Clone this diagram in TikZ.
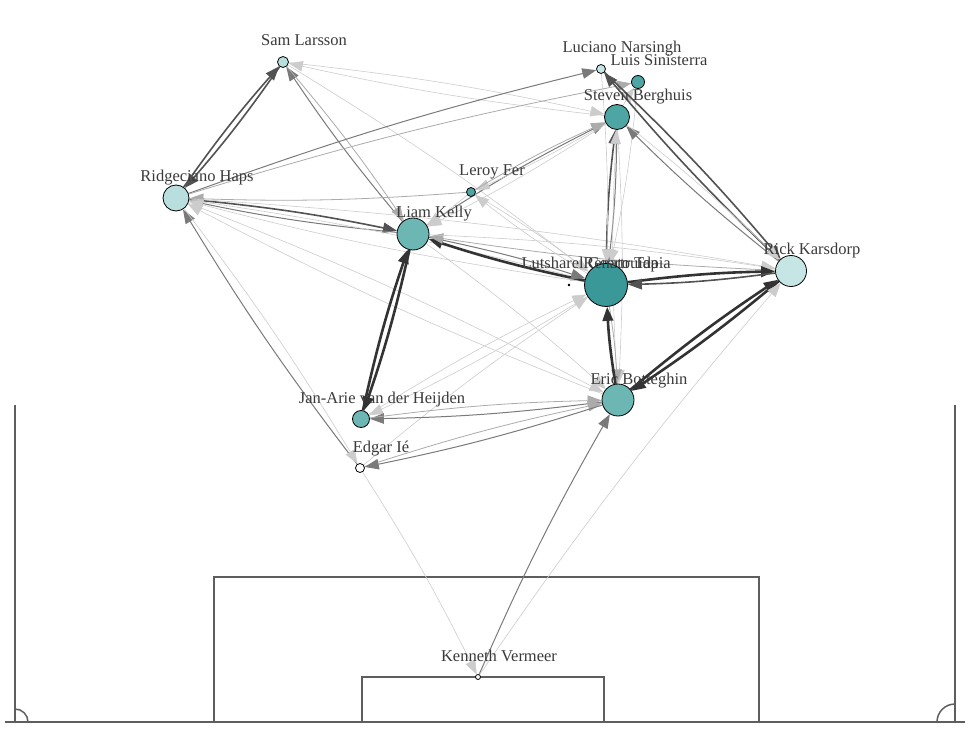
\documentclass[tikz,border=0pt]{standalone}
\usepackage{fontspec}
\setmainfont{Liberation Serif}
\usetikzlibrary{arrows.meta,backgrounds}

\definecolor{pale}{HTML}{B8DEDE}
\definecolor{paler}{HTML}{C6E6E6}
\definecolor{tealA}{HTML}{6CB7B4}
\definecolor{tealB}{HTML}{4DA6A4}
\definecolor{tealC}{HTML}{3A9898}
\definecolor{txt}{HTML}{3A3A3A}
\definecolor{pitch}{HTML}{5E5E5E}

\begin{document}
\begin{tikzpicture}[x=1pt,y=-1pt,
    player/.style={circle,draw=black,line width=0.8pt,inner sep=0pt},
    pname/.style={anchor=base,text=txt,inner sep=0pt,font=\fontsize{16.5}{18}\selectfont},
    pass/.style={-{Triangle[length=14pt,width=10.5pt]},bend left=3},
    e1/.style={pass,color=black!20,line width=0.6pt},
    e2/.style={pass,color=black!33,line width=0.8pt},
    e3/.style={pass,color=black!52,line width=1pt},
    e4/.style={pass,color=black!68,line width=1.6pt},
    e5/.style={pass,color=black!80,line width=2.6pt},
    field/.style={draw=pitch,line width=1.5pt}]

  \useasboundingbox (0,0) rectangle (970,730);

  % players: id / x / y / diameter / fill / name
  \foreach \id/\x/\y/\d/\col/\txt in {%
      sam/283/62/11/pale/Sam Larsson,
      luc/601/69/9/paler/Luciano Narsingh,
      luis/638/82/13/tealB/Luis Sinisterra,
      stev/617/117/25/tealB/Steven Berghuis,
      fer/471/192/9/tealB/Leroy Fer,
      haps/176/198/26/pale/Ridgeciano Haps,
      kelly/413/234/32/tealA/Liam Kelly,
      rick/791/271/31/paler/Rick Karsdorp,
      geer/569/285/1.6/black/Lutsharel Geertruida,
      tapia/606/285/43/tealC/Renato Tapia,
      eric/618/400/32/tealA/Eric Botteghin,
      jan/361/419/17/tealA/Jan-Arie van der Heijden,
      edgar/360/468/9/white/Edgar Ié,
      verm/478/677/5/white/Kenneth Vermeer} {
    \node[player,minimum size=\d pt,fill=\col] (\id) at (\x,\y) {};
    \node[pname] (\id-l) at ([xshift=21pt,yshift=16pt]\id.center) {\txt};
  }

  \begin{scope}[on background layer]
    % pitch
    \draw[field] (15,405) -- (15,722);
    \draw[field] (955,405) -- (955,722);
    \draw[field] (5,722) -- (965,722);
    \draw[field] (214,722) -- (214,577) -- (759,577) -- (759,722);
    \draw[field] (362,722) -- (362,677) -- (604,677) -- (604,722);
    \draw[field] (15,709) arc[start angle=-90,end angle=0,radius=13];
    \draw[field] (937,722) arc[start angle=180,end angle=270,radius=18];

    % passes
    \foreach \a/\b/\w in {%
        haps/sam/e4, sam/haps/e4, kelly/sam/e3, sam/kelly/e2,
        stev/sam/e1, sam/stev/e1, sam/tapia/e1,
        haps/luc/e3, haps/luis/e2, haps/kelly/e4, kelly/haps/e3,
        fer/haps/e2, tapia/haps/e1, eric/haps/e1, haps/tapia/e1,
        haps/eric/e1, haps/rick/e1, edgar/haps/e3, haps/edgar/e1,
        kelly/jan/e5, jan/kelly/e5, tapia/kelly/e5, kelly/tapia/e3,
        rick/kelly/e2, kelly/rick/e1, kelly/stev/e3, stev/kelly/e1,
        fer/kelly/e1, stev/fer/e1, fer/stev/e2, tapia/fer/e1, fer/tapia/e1,
        tapia/stev/e4, stev/tapia/e3, luc/tapia/e1, luis/tapia/e1,
        stev/eric/e1, eric/stev/e1, tapia/eric/e2, stev/luis/e1,
        luc/rick/e4, rick/luc/e4, rick/stev/e3, stev/rick/e1,
        tapia/rick/e5, rick/tapia/e4, eric/tapia/e5,
        jan/tapia/e1, edgar/tapia/e1, tapia/jan/e1, kelly/eric/e1,
        eric/rick/e5, rick/eric/e5, eric/jan/e3, jan/eric/e2,
        edgar/eric/e2, eric/edgar/e3,
        verm/eric/e3, verm/rick/e1, edgar/verm/e1} {
      \draw[\w] (\a) to (\b);
    }
  \end{scope}

\end{tikzpicture}
\end{document}
